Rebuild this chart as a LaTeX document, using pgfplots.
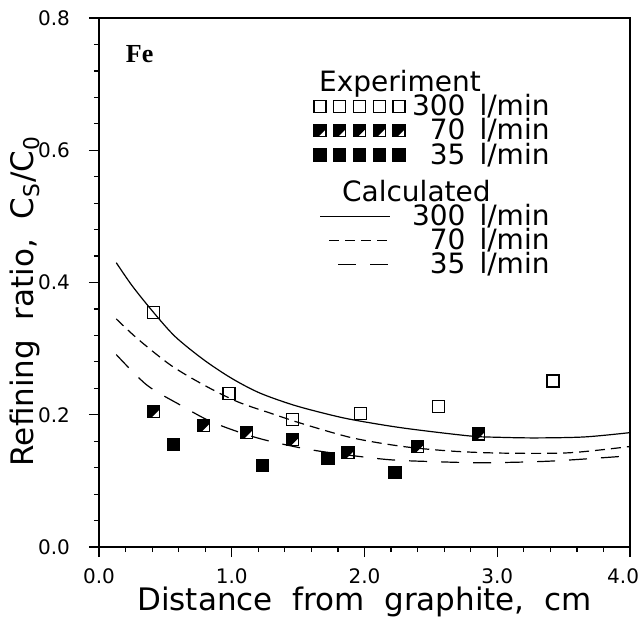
\documentclass[border=0pt]{standalone}
\usepackage{pgfplots}
\pgfplotsset{compat=1.18}
\usepackage{fontspec}
\setmainfont{DejaVu Sans}
\newfontfamily\serifbf{Liberation Serif}

\pgfdeclareplotmark{halfsq}{%
  \pgfpathmoveto{\pgfqpoint{-\pgfplotmarksize}{-\pgfplotmarksize}}%
  \pgfpathlineto{\pgfqpoint{-0.3\pgfplotmarksize}{-\pgfplotmarksize}}%
  \pgfpathlineto{\pgfqpoint{\pgfplotmarksize}{0.3\pgfplotmarksize}}%
  \pgfpathlineto{\pgfqpoint{\pgfplotmarksize}{\pgfplotmarksize}}%
  \pgfpathlineto{\pgfqpoint{-\pgfplotmarksize}{\pgfplotmarksize}}%
  \pgfpathclose
  \pgfusepathqfill
  \pgfpathrectangle{\pgfqpoint{-\pgfplotmarksize}{-\pgfplotmarksize}}{\pgfqpoint{2\pgfplotmarksize}{2\pgfplotmarksize}}%
  \pgfusepathqstroke
}
\newcommand{\legbox}{\path[draw=none,fill=none] (-3pt,0) -- (46pt,0);}
% five legend marks in a row
\newcommand{\fivemarks}[1]{%
  \legbox
  \foreach \xx in {0,9.9,19.8,29.6,39.5}{%
    \pgfscope
    \pgftransformshift{\pgfpoint{\xx pt}{0pt}}%
    \pgfsetlinewidth{0.6pt}\pgfsetstrokecolor{black}\pgfsetfillcolor{black}%
    \pgfsetdash{}{0pt}%
    \pgfsetplotmarksize{3pt}%
    \pgfuseplotmark{#1}%
    \endpgfscope}%
}

\pgfplotstableread{
x y
0.41 0.355
0.98 0.2325
1.46 0.1925
1.97 0.2025
2.56 0.2125
3.42 0.251
}\expA
\pgfplotstableread{
x y
0.41 0.205
0.79 0.184
1.11 0.1735
1.46 0.1625
1.875 0.1425
2.40 0.1515
2.86 0.171
}\expB
\pgfplotstableread{
x y
0.56 0.155
1.23 0.1235
1.725 0.134
2.23 0.1125
}\expC
\pgfplotstableread{
x y
0.13 0.430
0.25 0.395
0.41 0.355
0.575 0.318
0.79 0.283
1.00 0.255
1.21 0.233
1.46 0.215
1.70 0.202
1.91 0.1925
2.29 0.180
2.79 0.168
3.00 0.166
3.29 0.165
3.66 0.1665
4.00 0.173
}\calA
\pgfplotstableread{
x y
0.13 0.345
0.29 0.315
0.54 0.275
0.79 0.245
1.04 0.220
1.29 0.2025
1.54 0.186
1.91 0.165
2.29 0.152
2.66 0.145
3.04 0.142
3.54 0.1425
4.00 0.152
}\calB
\pgfplotstableread{
x y
0.13 0.291
0.36 0.245
0.61 0.215
0.84 0.190
1.11 0.170
1.34 0.1575
1.66 0.145
2.16 0.1325
2.54 0.129
2.91 0.1275
3.41 0.130
4.00 0.138
}\calC

\begin{document}
\begin{tikzpicture}
\begin{axis}[
  scale only axis,
  width=265.5pt, height=264.5pt,
  xmin=0, xmax=4, ymin=0, ymax=0.8,
  xtick={0,1,2,3,4}, ytick={0,0.2,0.4,0.6,0.8},
  xticklabels={0.0,1.0,2.0,3.0,\makebox[9pt][r]{4.0}},
  yticklabels={0.0,0.2,0.4,0.6,0.8},
  minor x tick num=4, minor y tick num=4,
  tick pos=left, tick align=outside,
  major tick length=5pt, minor tick length=2.5pt,
  axis line style={line width=0.8pt},
  every tick/.style={black, line width=0.6pt},
  ticklabel style={font=\fontsize{10}{12}\selectfont},
  xticklabel style={yshift=-2.5pt},
  yticklabel style={xshift=-6pt},
  xlabel={Distance\ \ from\ \ graphite,\ \ cm},
  ylabel={Refining\ \ ratio,\ \ C\textsubscript{S}/C\textsubscript{0}},
  label style={font=\fontsize{15.5}{18}\selectfont},
  xlabel style={at={(axis description cs:0.5,-0.12)}, anchor=base},
  ylabel style={at={(axis description cs:-0.14,0.465)}, anchor=center},
  legend cell align=left,
  legend style={draw=none, fill=none, at={(rel axis cs:0.393,0.91)}, anchor=north west,
    row sep=0pt, column sep=0pt, nodes={inner sep=0pt},
    font=\fontsize{14}{16}\selectfont},
]
\addlegendimage{empty legend}
\addlegendentry{\makebox[0pt][l]{\hspace*{-47pt}\fontsize{14}{16}\selectfont\rule[-4pt]{0pt}{11pt}Experiment}}

\addplot[only marks, mark=square, mark size=3pt, mark options={line width=0.6pt},
  legend image code/.code={\fivemarks{square}}]
  table {\expA};
\addlegendentry{\rule[-2pt]{0pt}{10pt}300\hspace{7pt}l/min}

\addplot[only marks, mark=halfsq, mark size=3pt, mark options={line width=0.6pt},
  legend image code/.code={\fivemarks{halfsq}}]
  table {\expB};
\addlegendentry{\rule[-2pt]{0pt}{10pt}\phantom{3}70\hspace{7pt}l/min}

\addplot[only marks, mark=square*, mark size=3pt, mark options={line width=0.6pt, fill=black},
  legend image code/.code={\fivemarks{square*}}]
  table {\expC};
\addlegendentry{\rule[-2pt]{0pt}{10pt}\phantom{3}35\hspace{7pt}l/min}

\addlegendimage{empty legend}
\addlegendentry{\makebox[0pt][l]{\hspace*{-35.5pt}\fontsize{14}{16}\selectfont\rule[-6pt]{0pt}{23pt}Calculated}}

\addplot[black, line width=0.6pt, smooth, tension=0.5,
  legend image code/.code={\legbox \draw (0pt,0pt) -- (35pt,0pt);}]
  table {\calA};
\addlegendentry{\rule[-2pt]{0pt}{10pt}300\hspace{7pt}l/min}

\addplot[black, line width=0.6pt, smooth, tension=0.5, dash pattern=on 5pt off 3pt,
  legend image code/.code={\legbox \draw (4.5pt,0pt) -- (35pt,0pt);}]
  table {\calB};
\addlegendentry{\rule[-2pt]{0pt}{10pt}\phantom{3}70\hspace{7pt}l/min}

\addplot[black, line width=0.6pt, smooth, tension=0.5, dash pattern=on 9pt off 7pt,
  legend image code/.code={\legbox \draw (9pt,0pt) -- (35pt,0pt);}]
  table {\calC};
\addlegendentry{\rule[-2pt]{0pt}{10pt}\phantom{3}35\hspace{7pt}l/min}

\node[anchor=base west, inner sep=0pt, font=\serifbf\bfseries\fontsize{13}{15}\selectfont] at (axis cs:0.2,0.732) {Fe};
\end{axis}
\pgfresetboundingbox
\path[use as bounding box] (-49.5pt,-35.5pt) rectangle (270.5pt,273.5pt);
\end{tikzpicture}
\end{document}
